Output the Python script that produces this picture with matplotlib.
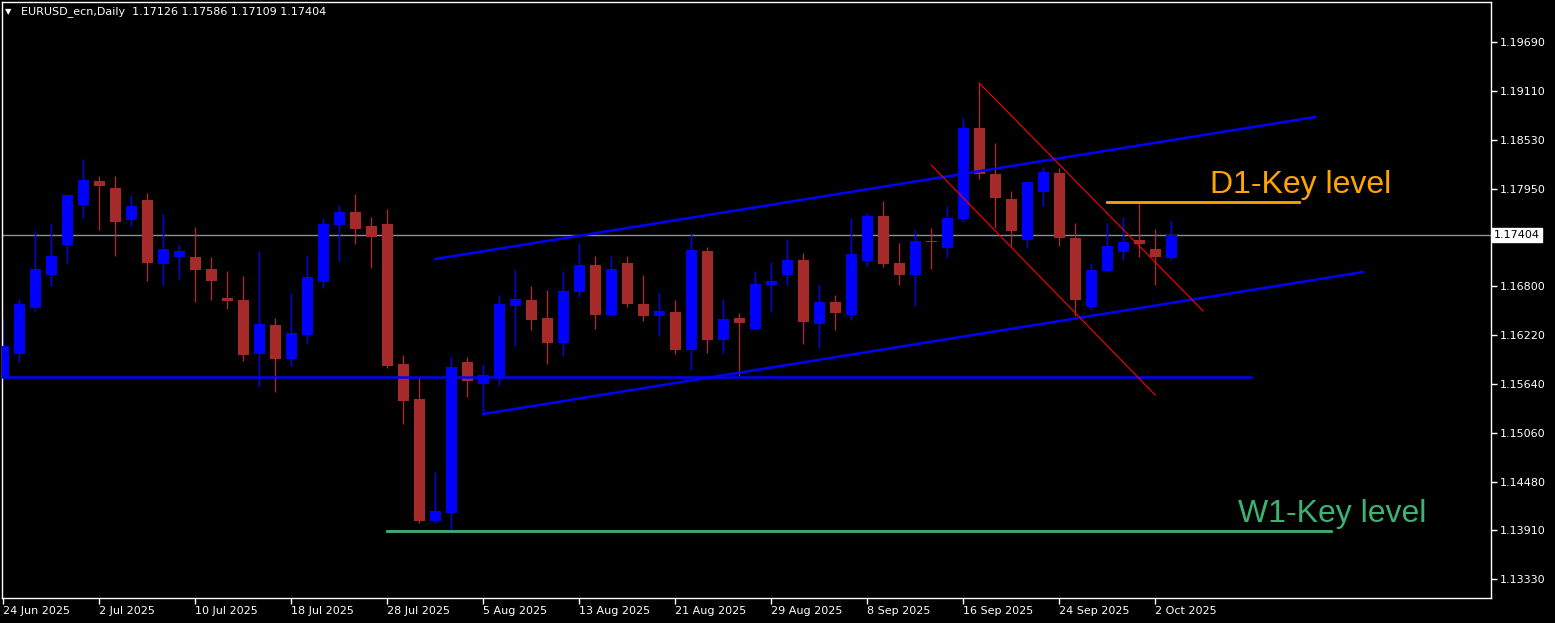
import matplotlib
matplotlib.use("Agg")
import matplotlib.pyplot as plt
import matplotlib.transforms as mtransforms
import pandas as pd
import numpy as np

# daily candles EURUSD, 24 Jun 2025 -> 3 Oct 2025
opens = [1.15722, 1.15995, 1.16540, 1.16930, 1.17286, 1.17760, 1.18044, 1.17961, 1.17582, 1.17819,
         1.17061, 1.17144, 1.17144, 1.17002, 1.16658, 1.16634, 1.15995, 1.16338, 1.15936, 1.16220,
         1.16848, 1.17523, 1.17677, 1.17511, 1.17534, 1.15876, 1.15462, 1.14017, 1.14112, 1.15900,
         1.15639, 1.15722, 1.16563, 1.16634, 1.16421, 1.16125, 1.16729, 1.17049, 1.16457, 1.17073,
         1.16587, 1.16445, 1.16492, 1.16042, 1.17215, 1.16161, 1.16421, 1.16291, 1.16812, 1.16930,
         1.17108, 1.16350, 1.16611, 1.16457, 1.17096, 1.17629, 1.17073, 1.16930, 1.17333, 1.17250,
         1.17594, 1.18671, 1.18127, 1.17831, 1.17345, 1.17913, 1.18139, 1.17369, 1.16551, 1.16978,
         1.17203, 1.17345, 1.17238, 1.17126]
highs = [1.16421, 1.16646, 1.17452, 1.17546, 1.17890, 1.18304, 1.18103, 1.18103, 1.17878, 1.17902,
         1.17653, 1.17298, 1.17499, 1.17144, 1.16978, 1.16919, 1.17215, 1.16421, 1.16717, 1.17167,
         1.17606, 1.17760, 1.17890, 1.17617, 1.17712, 1.15983, 1.15710, 1.14597, 1.15959, 1.15959,
         1.15876, 1.16694, 1.16990, 1.16800, 1.16753, 1.16978, 1.17309, 1.17155, 1.17155, 1.17155,
         1.16930, 1.16729, 1.16634, 1.17428, 1.17262, 1.16646, 1.16480, 1.16978, 1.17084, 1.17357,
         1.17191, 1.16824, 1.16694, 1.17606, 1.17665, 1.17807, 1.17309, 1.17463, 1.17487, 1.17748,
         1.18790, 1.19205, 1.18494, 1.17925, 1.18044, 1.18210, 1.18198, 1.17546, 1.17073, 1.17546,
         1.17617, 1.17795, 1.17475, 1.17586]
lows = [1.15710, 1.15888, 1.16504, 1.16800, 1.17073, 1.17606, 1.17463, 1.17155, 1.17511, 1.16859,
        1.16812, 1.16883, 1.16611, 1.16634, 1.16528, 1.15912, 1.15604, 1.15545, 1.15853, 1.16125,
        1.16776, 1.17096, 1.17298, 1.17013, 1.15829, 1.15166, 1.13993, 1.13993, 1.13898, 1.15485,
        1.15284, 1.15628, 1.16089, 1.16279, 1.15876, 1.15971, 1.16670, 1.16291, 1.16445, 1.16551,
        1.16386, 1.16208, 1.15995, 1.15805, 1.16007, 1.16007, 1.15734, 1.16279, 1.16492, 1.16812,
        1.16113, 1.16066, 1.16279, 1.16397, 1.17025, 1.17025, 1.16812, 1.16563, 1.17002, 1.17144,
        1.17558, 1.18067, 1.17487, 1.17274, 1.17250, 1.17748, 1.17274, 1.16445, 1.16516, 1.16966,
        1.17108, 1.17144, 1.16812, 1.17109]
closes = [1.16089, 1.16587, 1.17002, 1.17155, 1.17878, 1.18056, 1.17985, 1.17558, 1.17748, 1.17073,
          1.17238, 1.17215, 1.16990, 1.16859, 1.16623, 1.15983, 1.16350, 1.15936, 1.16244, 1.16907,
          1.17534, 1.17677, 1.17475, 1.17381, 1.15853, 1.15438, 1.14017, 1.14135, 1.15841, 1.15675,
          1.15746, 1.16587, 1.16646, 1.16397, 1.16125, 1.16741, 1.17049, 1.16457, 1.17002, 1.16587,
          1.16445, 1.16504, 1.16042, 1.17227, 1.16161, 1.16409, 1.16362, 1.16824, 1.16859, 1.17108,
          1.16374, 1.16611, 1.16480, 1.17179, 1.17629, 1.17061, 1.16930, 1.17333, 1.17321, 1.17606,
          1.18671, 1.18127, 1.17842, 1.17452, 1.18032, 1.18150, 1.17369, 1.16634, 1.16990, 1.17274,
          1.17321, 1.17298, 1.17144, 1.17404]

dates = pd.bdate_range("2025-06-24", periods=len(closes))

# drawn objects (bar index, price)
support_line = ([-1, 78], [1.15722, 1.15722])
channel_top = ([27, 82], [1.17120, 1.18802])
channel_bottom = ([30, 85], [1.15284, 1.16966])
red_top = ([61, 75], [1.19205, 1.16504])
red_bottom = ([58, 72], [1.18233, 1.15509])
d1_level = ([69, 81], [1.17795, 1.17795])
w1_level = ([24, 83], [1.13898, 1.13898])

y_ticks = [1.19690, 1.19110, 1.18530, 1.17950, 1.16800, 1.16220, 1.15640, 1.15060, 1.14480, 1.13910, 1.13330]

W, H = 1555, 623
fig = plt.figure(figsize=(W / 100, H / 100), dpi=100, facecolor="black")
ax = fig.add_axes([2 / W, 25 / H, 1489 / W, 596 / H], facecolor="black")

x = np.arange(len(closes))
o = np.array(opens)
c = np.array(closes)
up = c >= o
cols = np.where(up, "#0000ff", "#a52a2a")

ax.axhline(closes[-1], color="#8a8f99", lw=1, zorder=1)
ax.vlines(x, lows, highs, colors=cols, lw=1, zorder=2)
body = np.maximum(np.abs(c - o), 0.00012)
ax.bar(x, body, bottom=np.minimum(o, c), width=0.69, color=cols, zorder=3)

ax.plot(*support_line, color="#0000ff", lw=1.8, zorder=4)
ax.plot(*channel_top, color="#0000ff", lw=1.8, zorder=4)
ax.plot(*channel_bottom, color="#0000ff", lw=1.8, zorder=4)
ax.plot(*red_top, color="#ff0000", lw=0.8, zorder=4)
ax.plot(*red_bottom, color="#ff0000", lw=0.8, zorder=4)
ax.plot(*d1_level, color="#ffa500", lw=2, zorder=4)
ax.plot(*w1_level, color="#3cb371", lw=2, zorder=4)

ax.text(75.4, 1.1800, "D1-Key level", color="#ffa500", fontsize=23,
        family="Liberation Sans", va="center", ha="left", zorder=5)
ax.text(77.2, 1.14095, "W1-Key level", color="#3cb371", fontsize=23,
        family="Liberation Sans", va="center", ha="left", zorder=5)

ax.set_xlim(-0.08, 92.99)
ax.set_ylim(1.131048, 1.201638)

ax.yaxis.tick_right()
ax.set_yticks(y_ticks)
ax.set_yticklabels(["%.5f" % v for v in y_ticks])
xt = list(range(0, len(closes), 6))
ax.set_xticks(xt)
ax.set_xticklabels(["%d %s" % (dates[i].day, dates[i].strftime("%b %Y")) for i in xt], ha="left")
ax.tick_params(colors="white", labelcolor="white", labelsize=8, length=4, width=1)
ax.tick_params(axis="x", pad=2)
ax.tick_params(axis="y", pad=2)
for s in ax.spines.values():
    s.set_color("white")
    s.set_linewidth(1)

# current price tag
trans = mtransforms.blended_transform_factory(ax.transAxes, ax.transData)
ax.text(1.002, closes[-1], "%.5f" % closes[-1], transform=trans, color="black", fontsize=8,
        va="center", ha="left", bbox=dict(boxstyle="square,pad=0.2", fc="white", ec="white"))

header = "EURUSD_ecn,Daily  %.5f %.5f %.5f %.5f" % (opens[-1], highs[-1], lows[-1], closes[-1])
fig.text(5 / W, 1 - 12 / H, "\u25bc", color="white", fontsize=6, va="center", ha="left")
fig.text(21 / W, 1 - 12 / H, header, color="white", fontsize=8, va="center", ha="left")

fig.savefig("out.png", dpi=100, facecolor="black")
